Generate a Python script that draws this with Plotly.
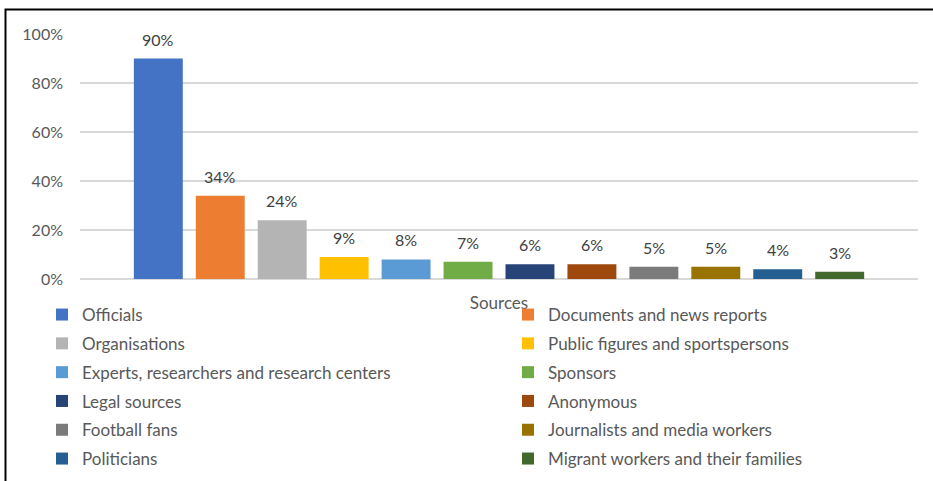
import plotly.graph_objects as go

# Share of articles citing each type of source
sources = [
    "Officials",
    "Documents and news reports",
    "Organisations",
    "Public figures and sportspersons",
    "Experts, researchers and research centers",
    "Sponsors",
    "Legal sources",
    "Anonymous",
    "Football fans",
    "Journalists and media workers",
    "Politicians",
    "Migrant workers and their families",
]
shares = [90, 34, 24, 9, 8, 7, 6, 6, 5, 5, 4, 3]
colors = [
    "#4472C4", "#ED7D31", "#B4B4B4", "#FFC000", "#5B9BD5", "#70AD47",
    "#264478", "#9E480E", "#7B7B7B", "#997300", "#255E91", "#43682B",
]
category = ["Sources"]
y_ticks = [0, 20, 40, 60, 80, 100]

FONT = "Lato"
TEXT_GREY = "#595959"

# plot area in pixels: x 80..918, y 34..279
PLOT_W, PLOT_H = 838, 245

def px_x(px):
    return (px - 80) / PLOT_W

def px_y(px):
    return (279 - px) / PLOT_H

fig = go.Figure()
for i, (name, val, col) in enumerate(zip(sources, shares, colors)):
    fig.add_trace(go.Bar(
        name=name,
        x=category,
        y=[val],
        marker=dict(color=col, line=dict(width=0)),
        offsetgroup=name,
        legendgroup=name,
        legend="legend" if i % 2 == 0 else "legend2",
        hoverinfo="skip",
    ))

legend_common = dict(
    orientation="v",
    yanchor="top",
    xanchor="left",
    traceorder="grouped",
    tracegroupgap=3.7,
    bgcolor="rgba(0,0,0,0)",
    font=dict(family=FONT, size=17, color=TEXT_GREY),
    itemclick=False,
    itemdoubleclick=False,
)

fig.update_layout(
    width=933,
    height=481,
    margin=dict(l=80, r=15, t=34, b=202, autoexpand=False),
    paper_bgcolor="white",
    plot_bgcolor="white",
    barmode="group",
    bargap=0.113,
    bargroupgap=0.21,
    font=dict(family=FONT, size=16, color=TEXT_GREY),
    showlegend=True,
    legend=dict(x=px_x(42), y=px_y(297), **legend_common),
    legend2=dict(x=px_x(508), y=px_y(297), **legend_common),
    xaxis=dict(
        showgrid=False,
        showline=False,
        ticks="",
        ticklabelstandoff=12,
        tickfont=dict(family=FONT, size=17, color=TEXT_GREY),
    ),
    yaxis=dict(
        range=[0, 100],
        tickvals=y_ticks,
        ticktext=[f"{v}%" for v in y_ticks],
        showgrid=True,
        gridcolor="#D9D9D9",
        gridwidth=1.5,
        zeroline=True,
        zerolinecolor="#D9D9D9",
        zerolinewidth=1.5,
        showline=False,
        ticks="",
        ticklabelstandoff=16,
        tickfont=dict(family=FONT, size=16, color=TEXT_GREY),
    ),
)

# Value labels above each bar
n = len(sources)
for i, val in enumerate(shares):
    fig.add_annotation(
        x=category[0],
        y=val,
        text=f"{val}%",
        showarrow=False,
        yanchor="bottom",
        yshift=8,
        xshift=(i - (n - 1) / 2) * 62,
        font=dict(family=FONT, size=16, color="#404040"),
    )

# Chart frame
fig.add_shape(
    type="rect",
    xref="paper", yref="paper",
    x0=px_x(5.5), x1=1.2,
    y0=-1.5, y1=px_y(9.5),
    line=dict(color="black", width=2),
    fillcolor="rgba(0,0,0,0)",
    layer="above",
)

fig.write_html("out.html")
